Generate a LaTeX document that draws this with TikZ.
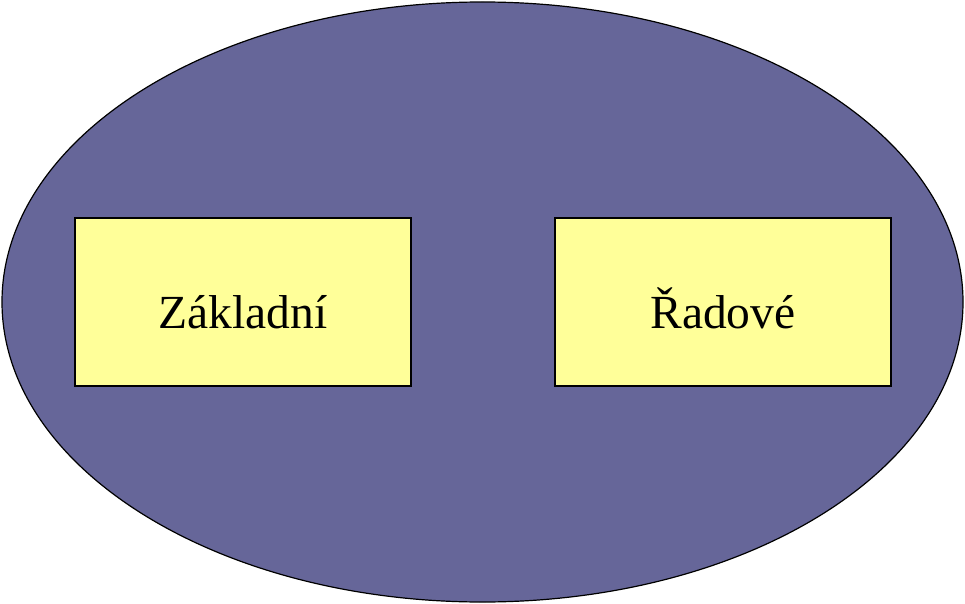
\documentclass[tikz,border=0pt]{standalone}
\usepackage{fontspec}
\setmainfont{Liberation Serif}
\usetikzlibrary{shapes.geometric}
\definecolor{ellfill}{HTML}{666699}
\definecolor{boxfill}{HTML}{FFFF99}
\begin{document}
\begin{tikzpicture}[x=1pt,y=-1pt,
  outer/.style={draw=black,line width=1.2pt,fill=ellfill},
  box/.style={draw=black,line width=1.2pt,fill=boxfill,minimum width=336pt,minimum height=168pt,inner sep=0pt,text height=52pt,text depth=0pt,font=\fontsize{47.5}{58}\selectfont}]
\useasboundingbox (0,0) rectangle (965,604);
\fill[white] (0,0) rectangle (965,604);
\node[outer,ellipse,minimum width=961pt,minimum height=600pt,inner sep=0pt] (ell) at (482.5,302) {};
\node[box] (base) at (243,302) {Základní};
\node[box] (ord) at (723,302) {Řadové};
\end{tikzpicture}
\end{document}
